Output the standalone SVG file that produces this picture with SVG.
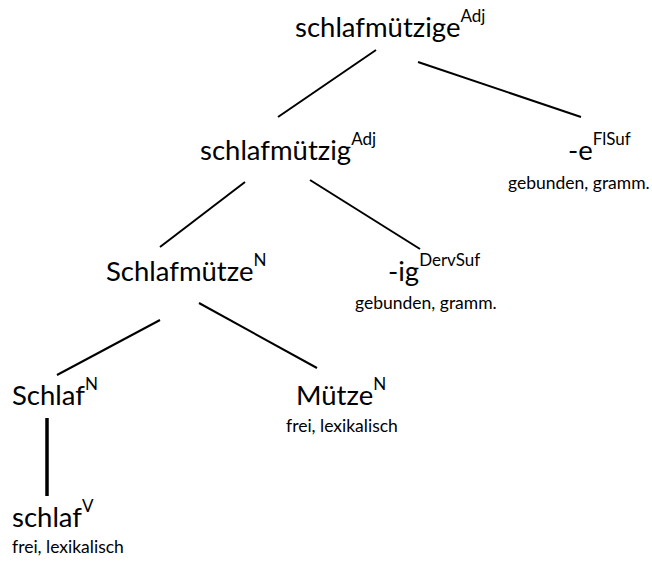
<svg xmlns="http://www.w3.org/2000/svg" width="652" height="562" viewBox="0 0 652 562">
<style>
.m{font-family:Lato,"Open Sans","Liberation Sans",sans-serif;font-size:27.5px;fill:#000}
.s{font-size:17px}
.l{font-family:Lato,"Open Sans","Liberation Sans",sans-serif;font-size:17.5px;fill:#000}
.c line{stroke:#000;stroke-width:2}
</style>
<rect width="652" height="562" fill="#fff"/>
<g id="connectors" class="c">
<line x1="376" y1="50" x2="278" y2="117"/>
<line x1="418" y1="62" x2="581" y2="117"/>
<line x1="245" y1="182" x2="160" y2="247"/>
<line x1="310" y1="180" x2="420" y2="249"/>
<line x1="160" y1="320" x2="57" y2="375"/>
<line x1="199" y1="303" x2="317" y2="368"/>
<line x1="47" y1="418" x2="47" y2="496" style="stroke-width:3.5"/>
</g>
<g id="n-schlafmuetzige"><text class="m" x="295" y="37">schlafmützige<tspan class="s" dy="-15">Adj</tspan></text></g>
<g id="n-schlafmuetzig"><text class="m" x="200" y="160">schlafmützig<tspan class="s" dy="-15">Adj</tspan></text></g>
<g id="n-e"><text class="m" x="568" y="160">-e<tspan class="s" dy="-15">FlSuf</tspan></text><text class="l" x="508" y="189">gebunden, gramm.</text></g>
<g id="n-Schlafmuetze"><text class="m" x="106" y="281">Schlafmütze<tspan class="s" dy="-15">N</tspan></text></g>
<g id="n-ig"><text class="m" x="388" y="281">-ig<tspan class="s" dy="-15">DervSuf</tspan></text><text class="l" x="355" y="309">gebunden, gramm.</text></g>
<g id="n-Schlaf"><text class="m" x="12" y="405">Schlaf<tspan class="s" dy="-15">N</tspan></text></g>
<g id="n-Muetze"><text class="m" x="296" y="405">Mütze<tspan class="s" dy="-15">N</tspan></text><text class="l" x="286" y="432">frei, lexikalisch</text></g>
<g id="n-schlaf"><text class="m" x="12" y="527">schlaf<tspan class="s" dy="-15">V</tspan></text><text class="l" x="12" y="553">frei, lexikalisch</text></g>
</svg>
